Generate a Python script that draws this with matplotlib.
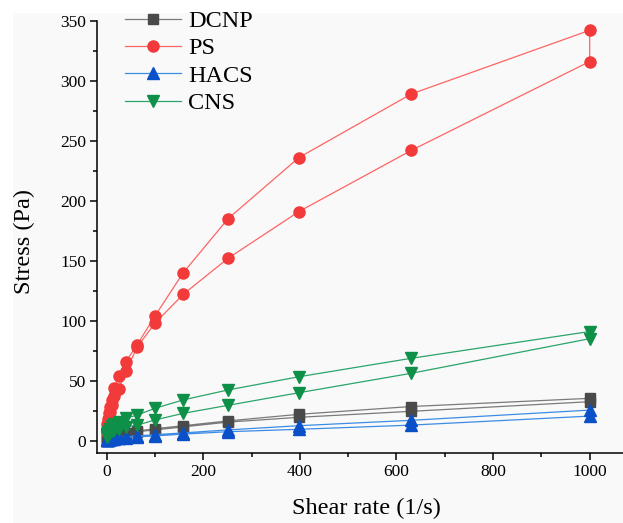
import numpy as np
import matplotlib
matplotlib.use("Agg")
import matplotlib.pyplot as plt
from matplotlib.patches import Rectangle
from matplotlib.ticker import MultipleLocator

plt.rcParams['font.family'] = ['Liberation Serif', 'DejaVu Serif']

# shear rates, up sweep then down sweep
rate_up = [1, 1.585, 2.512, 3.981, 6.31, 10, 15.85, 25.12, 39.81, 63.1, 100, 158.5, 251.2, 398.1, 631, 1000]
rate = rate_up + rate_up[::-1]

dcnp_up = [1.5, 2, 2.5, 3, 3.5, 4, 4.5, 5.5, 6.5, 8, 10, 12.5, 16.5, 22, 28.5, 35.3]
dcnp_dn = [32.5, 24.5, 19.5, 15.5, 11.5, 9, 7.5, 6, 5, 4, 3.5, 3, 2.5, 2, 1.5, 1]
ps_up = [10, 14, 18, 23, 28, 34, 44, 54, 66, 80, 104, 140, 185, 236, 289, 342]
ps_dn = [316, 242, 191, 152, 122, 98, 78, 58, 43, 37, 30, 24, 19, 14, 10, 7]
hacs_up = [0.6, 0.8, 1, 1.2, 1.5, 1.8, 2.1, 2.6, 3.2, 4, 5, 6.5, 9, 12.5, 17, 25.5]
hacs_dn = [20.5, 13, 9.5, 7.5, 5.5, 4, 3.2, 2.6, 2.1, 1.7, 1.4, 1.1, 0.9, 0.7, 0.5, 0.4]
cns_up = [5, 6, 7, 8.5, 10, 12, 14, 16, 18.6, 21.4, 27, 34, 42.3, 53.3, 68.7, 91]
cns_dn = [85, 56.2, 40, 29.5, 22.8, 17.3, 13, 11.5, 10, 9, 8, 7, 6, 5, 4, 3]

names = ['DCNP', 'PS', 'HACS', 'CNS']
series = [dcnp_up + dcnp_dn, ps_up + ps_dn, hacs_up + hacs_dn, cns_up + cns_dn]
markers = ['s', 'o', '^', 'v']
mcolors = ['#4a4a4a', '#f23a3a', '#0a50c8', '#0e9048']
lcolors = ['#7a7a7a', '#ff6464', '#3c8ce6', '#2aa46a']
msizes = [6.5, 8, 8, 8]

fig = plt.figure(figsize=(6.23, 5.23), dpi=100)
fig.patches.append(Rectangle((13/623, 0), 1, 1 - 13/523, transform=fig.transFigure,
                             facecolor='#f9f9f9', edgecolor='none', zorder=-10))
ax = fig.add_axes([97.3/623, 1 - 452.7/523, 1 - 97.3/623, (452.7 - 20.7)/523])
ax.set_facecolor('none')

for n, y, m, mc, lc, ms in zip(names, series, markers, mcolors, lcolors, msizes):
    ax.plot(rate, y, color=lc, lw=0.9, marker=m, markersize=ms,
            markerfacecolor=mc, markeredgecolor=mc, label=n)

ax.set_xlim(-19.5, 1069)
ax.set_ylim(-10, 350)
ax.xaxis.set_major_locator(MultipleLocator(200))
ax.xaxis.set_minor_locator(MultipleLocator(100))
ax.yaxis.set_major_locator(MultipleLocator(50))
ax.yaxis.set_minor_locator(MultipleLocator(25))
ax.spines['top'].set_visible(False)
ax.spines['right'].set_visible(False)
for s in ['left', 'bottom']:
    ax.spines[s].set_linewidth(1.1)
ax.tick_params(which='major', direction='out', length=5, width=1.1, labelsize=12.5, pad=3)
ax.tick_params(which='minor', direction='out', length=3, width=1.1)

fig.text(366/623, 1 - 508/523, 'Shear rate (1/s)', fontsize=17.5, ha='center', va='center')
fig.text(24/623, 1 - 241/523, 'Stress (Pa)', fontsize=17.5, ha='center', va='center', rotation=90)

ax.legend(loc='upper left', bbox_to_anchor=(125/623, 1 - 10/523), bbox_transform=fig.transFigure,
          frameon=False, fontsize=17.5, handlelength=2.3, handletextpad=0.3,
          labelspacing=0.22, borderpad=0, borderaxespad=0)

fig.savefig('out.png', dpi=100, facecolor='white')
